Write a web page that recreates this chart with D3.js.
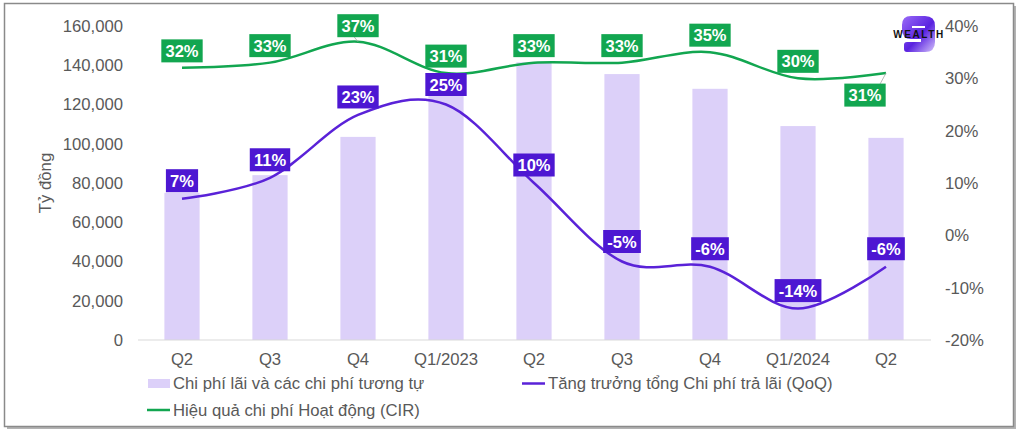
<!DOCTYPE html>
<html>
<head>
<meta charset="utf-8">
<script src="https://cdn.jsdelivr.net/npm/d3@7"></script>
<style>
    body { margin: 0; background: #fff; }
    #chart svg { display: block; font-family: "Liberation Sans", Arial, sans-serif; }
</style>
</head>
<body>
<div id="chart"></div>
<script>
var quarters = ["Q2", "Q3", "Q4", "Q1/2023", "Q2", "Q3", "Q4", "Q1/2024", "Q2"];
var interestCost = [75000, 84000, 103500, 125000, 141500, 135500, 128000, 109000, 103000];
var qoqGrowth = [7, 11, 23, 25, 10, -5, -6, -14, -6];
var cir = [32, 33, 37, 31, 33, 33, 35, 30, 31];
var leftTicks = [0, 20000, 40000, 60000, 80000, 100000, 120000, 140000, 160000];
var rightTicks = [-20, -10, 0, 10, 20, 30, 40];
var legendNames = ["Chi phí lãi và các chi phí tương tự", "Tăng trưởng tổng Chi phí trả lãi (QoQ)", "Hiệu quả chi phí Hoạt động (CIR)"];

var width = 1022,
    height = 432;

var barColor = "#dcd0f9",
    purple = "#4d17d2",
    purpleLine = "#5a22d8",
    green = "#12a650",
    textGray = "#595959",
    fontSize = "16.7px";

var svg = d3.select("#chart")
    .append("svg")
    .attr("width", width)
    .attr("height", height);

// frame with a little shadow on right/bottom
svg.append("rect")
    .attr("x", 7).attr("y", 6).attr("width", 1009).attr("height", 423)
    .attr("fill", "#b3b3b3");
svg.append("rect")
    .attr("x", 4.5).attr("y", 3.5).attr("width", 1009).attr("height", 423)
    .attr("fill", "#fff")
    .attr("stroke", "#8a8a8a")
    .attr("stroke-width", 1.5);

var x = d3.scaleBand()
    .domain(d3.range(quarters.length))
    .range([138, 930])
    .paddingInner(0.6)
    .paddingOuter(0.3);

var yLeft = d3.scaleLinear().domain([0, 160000]).range([340, 26]);
var yRight = d3.scaleLinear().domain([-20, 40]).range([340, 26]);

function cx(i) { return x(i) + x.bandwidth() / 2; }

// bars
svg.append("g")
    .selectAll("rect")
    .data(interestCost)
    .enter()
    .append("rect")
    .attr("x", function(d, i) { return x(i); })
    .attr("y", function(d) { return yLeft(d); })
    .attr("width", x.bandwidth())
    .attr("height", function(d) { return yLeft(0) - yLeft(d); })
    .attr("fill", barColor);

// baseline
svg.append("line")
    .attr("x1", 138).attr("x2", 931)
    .attr("y1", yLeft(0)).attr("y2", yLeft(0))
    .attr("stroke", "#d9d9d9");

// axes
var leftAxis = svg.append("g")
    .attr("transform", "translate(138,0)")
    .call(d3.axisLeft(yLeft).tickValues(leftTicks).tickSize(0).tickPadding(15).tickFormat(d3.format(",")));
var rightAxis = svg.append("g")
    .attr("transform", "translate(930,0)")
    .call(d3.axisRight(yRight).tickValues(rightTicks).tickSize(0).tickPadding(15).tickFormat(function(d) { return d + "%"; }));
var bottomAxis = svg.append("g")
    .attr("transform", "translate(0,340)")
    .call(d3.axisBottom(x).tickSize(0).tickPadding(13).tickFormat(function(i) { return quarters[i]; }));

[leftAxis, rightAxis, bottomAxis].forEach(function(a) {
    a.select(".domain").remove();
    a.selectAll("text")
        .attr("fill", textGray)
        .style("font-size", fontSize)
        .style("font-family", "'Liberation Sans', Arial, sans-serif");
});

svg.append("text")
    .attr("transform", "translate(51,183) rotate(-90)")
    .attr("text-anchor", "middle")
    .attr("fill", textGray)
    .style("font-size", fontSize)
    .text("Tỷ đồng");

// lines
var line = function(values) {
    return d3.line()
        .x(function(d, i) { return cx(i); })
        .y(function(d) { return yRight(d); })
        .curve(d3.curveCardinal.tension(0))(values);
};

svg.append("path")
    .attr("d", line(cir))
    .attr("fill", "none")
    .attr("stroke", green)
    .attr("stroke-width", 2.5);

svg.append("path")
    .attr("d", line(qoqGrowth))
    .attr("fill", "none")
    .attr("stroke", purpleLine)
    .attr("stroke-width", 2.5);

// data labels
function drawLabels(values, color, offsetFn) {
    var g = svg.append("g");
    values.forEach(function(v, i) {
        var off = offsetFn(i);
        var px = cx(i), py = yRight(v);
        var lx = px + off[0], ly = py + off[1];
        var t = g.append("text")
            .attr("x", lx).attr("y", ly + 6)
            .attr("text-anchor", "middle")
            .attr("fill", "#fff")
            .style("font-size", "16.5px")
            .style("font-weight", "bold")
            .text(v + "%");
        var bb = t.node().getBBox();
        var bw = bb.width + 8, bh = 23;
        if (off[2]) {
            g.insert("line", "text")
                .attr("x1", px).attr("y1", py)
                .attr("x2", lx + off[2][0]).attr("y2", ly + off[2][1])
                .attr("stroke", "#a6a6a6")
                .attr("stroke-width", 0.8);
        }
        g.insert("rect", "text")
            .attr("x", lx - bw / 2).attr("y", ly - bh / 2)
            .attr("width", bw).attr("height", bh)
            .attr("fill", color);
    });
}

drawLabels(cir, green, function(i) {
    if (i == 8) return [-21, 22, [15, -11]];
    if (i == 2) return [0, -16, [-4, 11]];
    return [0, -17];
});
drawLabels(qoqGrowth, purple, function(i) {
    if (i == 3 || i == 5) return [0, -20];
    return [0, -18];
});

// legend
var legend = svg.append("g").style("font-size", fontSize).attr("fill", textGray);
legend.append("rect")
    .attr("x", 148).attr("y", 379).attr("width", 22).attr("height", 9)
    .attr("fill", barColor);
legend.append("text").attr("x", 173).attr("y", 389).text(legendNames[0]);
legend.append("line")
    .attr("x1", 522).attr("x2", 545).attr("y1", 383.5).attr("y2", 383.5)
    .attr("stroke", purpleLine).attr("stroke-width", 2.5);
legend.append("text").attr("x", 548).attr("y", 389).text(legendNames[1]);
legend.append("line")
    .attr("x1", 147).attr("x2", 170).attr("y1", 410).attr("y2", 410)
    .attr("stroke", green).attr("stroke-width", 2.5);
legend.append("text").attr("x", 173).attr("y", 416).text(legendNames[2]);

// logo
var defs = svg.append("defs");
var grad = defs.append("linearGradient")
    .attr("id", "logoGrad")
    .attr("x1", "0").attr("y1", "0").attr("x2", "1").attr("y2", "1");
grad.append("stop").attr("offset", "0%").attr("stop-color", "#9a6cf7");
grad.append("stop").attr("offset", "55%").attr("stop-color", "#5a22e0");
grad.append("stop").attr("offset", "100%").attr("stop-color", "#d4c2fb");

var logo = svg.append("g").attr("transform", "translate(902,16)");
logo.append("path")
    .attr("d", "M9,0 H23 Q33,0 33,10 V26 Q33,36 23,36 H5 Q2,36 2,33 V29 Q2,26 5,26 H19 V23 H9 Q0,23 0,13 V9 Q0,0 9,0 Z")
    .attr("fill", "url(#logoGrad)");
logo.append("rect")
    .attr("x", 10).attr("y", 10).attr("width", 13).attr("height", 2)
    .attr("fill", "#fff");
logo.append("text")
    .attr("x", 17).attr("y", 22)
    .attr("text-anchor", "middle")
    .attr("fill", "#111")
    .style("font-size", "10px")
    .style("font-weight", "900")
    .style("letter-spacing", "1.6px")
    .text("WEALTH");
</script>
</body>
</html>
